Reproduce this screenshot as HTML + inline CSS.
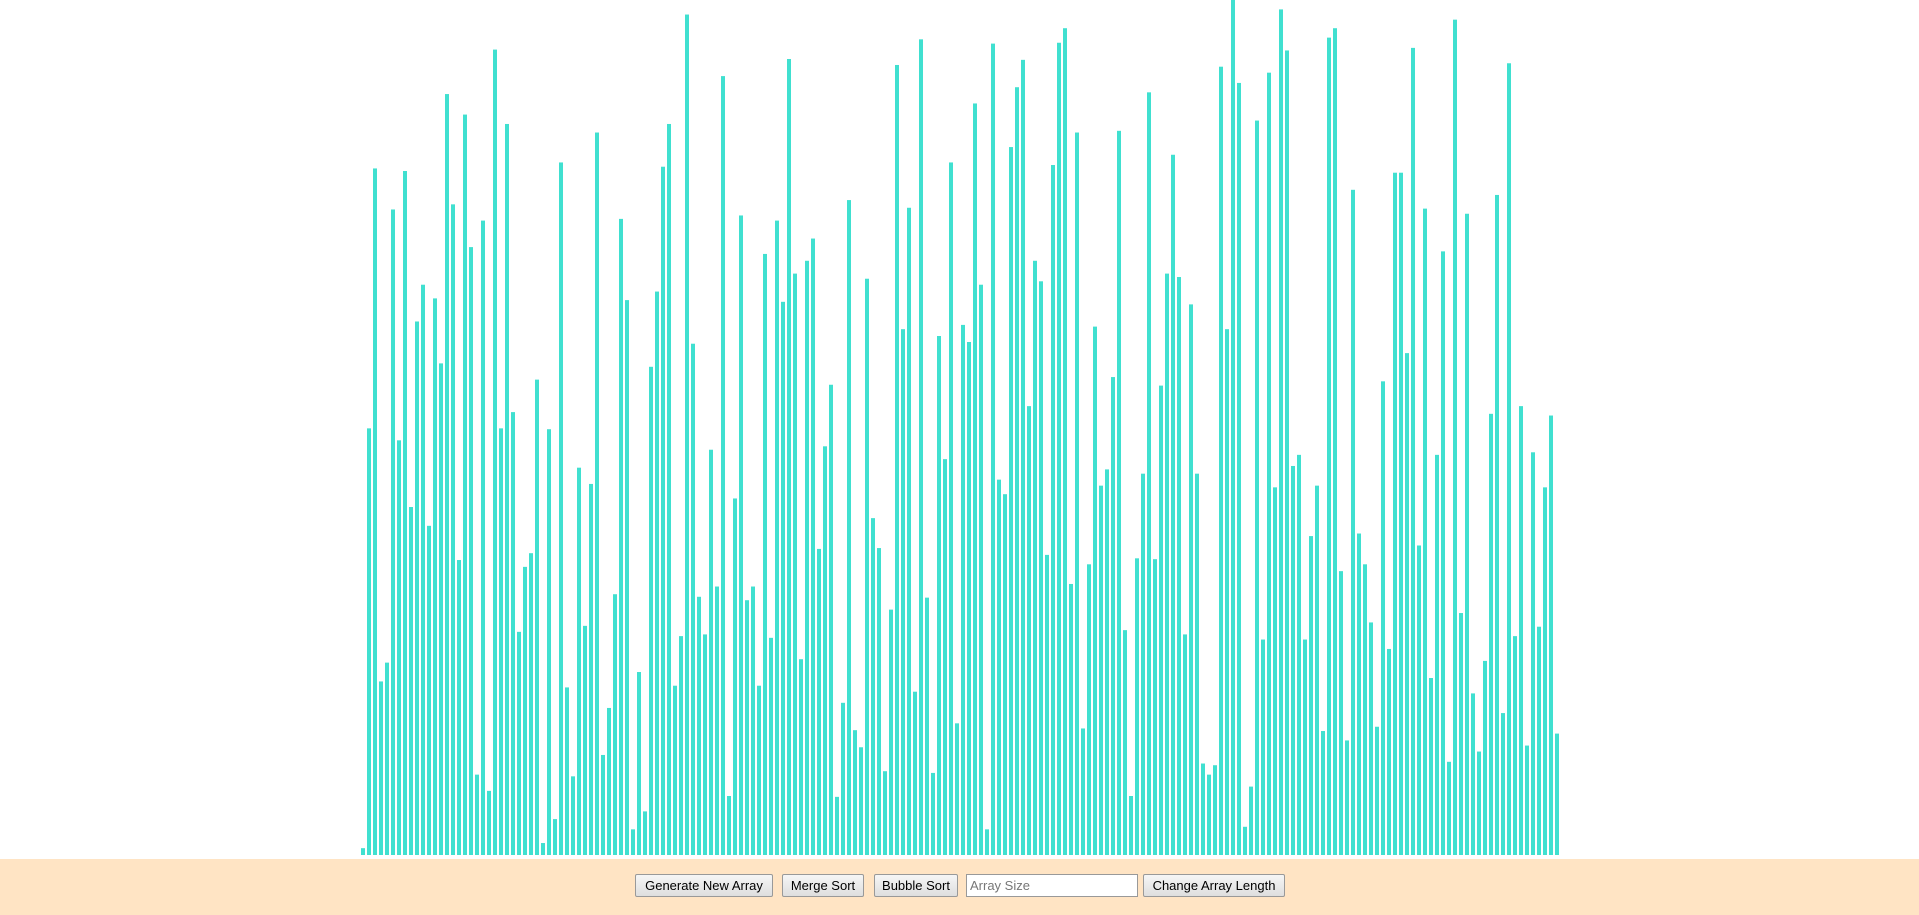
<!DOCTYPE html>
<html><head><meta charset="utf-8"><style>
html,body{margin:0;padding:0;width:1919px;height:915px;overflow:hidden;background:#fff;font-family:"Liberation Sans",sans-serif}
#chart{position:absolute;left:0;top:0;width:1919px;height:859px}
#footer{position:absolute;left:0;top:859px;width:1919px;height:56px;background:#ffe4c4}
.btn{position:absolute;top:15px;height:23px;box-sizing:border-box;border:1px solid #999;border-radius:2px;background:linear-gradient(#f6f6f6,#dedede);font:13px "Liberation Sans",sans-serif;color:#000;padding:0;white-space:nowrap;display:flex;align-items:center;justify-content:center}
#size{position:absolute;top:15px;height:23px;box-sizing:border-box;border:1px solid #999;background:#fff;font:13px "Liberation Sans",sans-serif;padding:0 3px;color:#777;white-space:nowrap;display:flex;align-items:center}
</style></head><body>
<svg id="chart" width="1919" height="859"></svg>
<div id="footer">
<div class="btn" style="left:635px;width:138px">Generate New Array</div>
<div class="btn" style="left:782px;width:82px">Merge Sort</div>
<div class="btn" style="left:874px;width:84px">Bubble Sort</div>
<div id="size" style="left:966px;width:172px">Array Size</div>
<div class="btn" style="left:1143px;width:142px">Change Array Length</div>
</div>
<script>
const values = [8,499,803,203,225,755,485,800,407,624,667,385,651,575,890,761,345,866,711,94,742,75,942,499,855,518,261,337,353,556,14,498,42,810,196,92,453,268,434,845,117,172,305,744,649,30,214,51,571,659,
805,855,198,256,983,598,302,258,474,314,911,69,417,748,298,314,198,703,254,742,647,931,680,229,695,721,358,478,550,68,178,766,146,126,674,394,359,98,287,924,615,757,191,954,301,96,607,463,810,154,
620,600,879,667,30,949,439,422,828,898,930,525,695,671,351,807,950,967,317,845,148,340,618,432,451,559,847,263,69,347,446,892,346,549,680,819,676,258,644,446,107,94,105,922,615,1000,903,33,80,859,
252,915,430,989,941,455,468,252,373,432,145,956,967,332,134,778,376,340,272,150,554,241,798,798,587,944,362,756,207,468,706,109,977,283,750,189,121,227,516,772,166,926,256,525,128,471,267,430,514,142];
const maxValue = 1000;
const svg = document.getElementById('chart');
const x0 = 361, pitch = 6, barW = 4, baseY = 855, plotH = 855;
function xPos(i){ return x0 + i*pitch; }
function yPos(v){ return baseY - v/maxValue*plotH; }
values.forEach((v,i)=>{
  const r = document.createElementNS('http://www.w3.org/2000/svg','rect');
  r.setAttribute('x', xPos(i));
  r.setAttribute('y', yPos(v));
  r.setAttribute('width', barW);
  r.setAttribute('height', baseY - yPos(v));
  r.setAttribute('fill', '#40e0d0');
  
  
  svg.appendChild(r);
});
</script>
</body></html>
